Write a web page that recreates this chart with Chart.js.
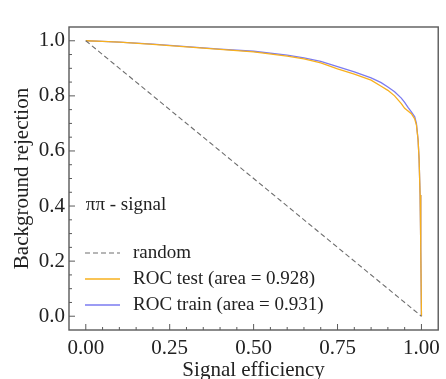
<!DOCTYPE html>
<html>
<head>
<meta charset="utf-8">
<script src="https://cdn.jsdelivr.net/npm/chart.js@4.4.1/dist/chart.umd.min.js"></script>
<style>
  html, body { margin: 0; padding: 0; background: #fff; }
  #wrap { width: 446px; height: 379px; }
</style>
</head>
<body>
<div id="wrap"><canvas id="chart" width="446" height="379"></canvas></div>
<script>
// ROC curves
const signalEff = [0, 0.05, 0.1, 0.2, 0.3, 0.4, 0.5, 0.6, 0.65, 0.7, 0.75, 0.8, 0.85, 0.88, 0.9, 0.92, 0.94, 0.95, 0.96, 0.97, 0.98, 0.985, 0.99, 0.993, 0.996, 0.998, 1.0];
const testRej  = [1.0, 0.998, 0.995, 0.987, 0.978, 0.969, 0.960, 0.944, 0.934, 0.920, 0.898, 0.879, 0.857, 0.835, 0.820, 0.800, 0.772, 0.755, 0.745, 0.735, 0.716, 0.695, 0.64, 0.57, 0.44, 0.25, 0.0];
const trainRej = [1.0, 0.998, 0.995, 0.988, 0.979, 0.970, 0.962, 0.948, 0.938, 0.925, 0.906, 0.887, 0.865, 0.848, 0.832, 0.815, 0.792, 0.776, 0.758, 0.742, 0.724, 0.700, 0.64, 0.57, 0.44, 0.25, 0.0];
const randomX = [0, 1];
const randomY = [1, 0];

const xTicks = [0, 0.25, 0.5, 0.75, 1.0];
const yTicks = [0, 0.2, 0.4, 0.6, 0.8, 1.0];
const minorStep = 0.05;

const labels = ['random', 'ROC test (area = 0.928)', 'ROC train (area = 0.931)'];
const annotationText = 'ππ - signal';

const serif = '"Liberation Serif", "DejaVu Serif", serif';
const frameColor = '#5a5a5a';

function pts(xs, ys) {
    return xs.map((x, i) => ({ x: x, y: ys[i] }));
}

// frame, inward ticks, legend and the annotation
const decorations = {
    id: 'decorations',
    afterDatasetsDraw(chart) {
        const ctx = chart.ctx;
        const area = chart.chartArea;
        const xs = chart.scales.x;
        const ys = chart.scales.y;
        ctx.save();

        // frame
        ctx.strokeStyle = frameColor;
        ctx.lineWidth = 1.4;
        ctx.strokeRect(area.left, area.top, area.right - area.left, area.bottom - area.top);

        // ticks pointing inward
        ctx.lineWidth = 1;
        for (let i = 0; i <= 20; i++) {
            const v = i * minorStep;
            const major = xTicks.some(t => Math.abs(t - v) < 1e-6);
            const px = xs.getPixelForValue(v);
            ctx.beginPath();
            ctx.moveTo(px, area.bottom);
            ctx.lineTo(px, area.bottom - (major ? 6 : 3));
            ctx.stroke();
        }
        for (let i = 0; i <= 20; i++) {
            const v = i * minorStep;
            const major = yTicks.some(t => Math.abs(t - v) < 1e-6);
            const py = ys.getPixelForValue(v);
            ctx.beginPath();
            ctx.moveTo(area.left, py);
            ctx.lineTo(area.left + (major ? 6 : 3), py);
            ctx.stroke();
        }

        // annotation
        ctx.fillStyle = '#222';
        ctx.font = '19px ' + serif;
        ctx.textBaseline = 'middle';
        ctx.textAlign = 'left';
        ctx.fillText(annotationText, xs.getPixelForValue(0), ys.getPixelForValue(0.405));

        // legend in the lower left corner
        const rowY = [area.bottom - 77, area.bottom - 51, area.bottom - 25];
        chart.data.datasets.forEach((ds, i) => {
            const y = rowY[i];
            ctx.strokeStyle = ds.borderColor;
            ctx.lineWidth = ds.borderWidth;
            ctx.setLineDash(ds.borderDash || []);
            ctx.beginPath();
            ctx.moveTo(area.left + 16, y);
            ctx.lineTo(area.left + 51, y);
            ctx.stroke();
            ctx.setLineDash([]);
            ctx.fillStyle = '#222';
            ctx.fillText(ds.label, area.left + 64, y);
        });
        ctx.restore();
    }
};

const ctx = document.getElementById('chart').getContext('2d');
const chart = new Chart(ctx, {
    type: 'line',
    data: {
        datasets: [{
            label: labels[0],
            data: pts(randomX, randomY),
            borderColor: '#6e6e6e',
            borderWidth: 1.1,
            borderDash: [5, 3]
        }, {
            label: labels[1],
            data: pts(signalEff, testRej),
            borderColor: '#f7b01e',
            borderWidth: 1.3
        }, {
            label: labels[2],
            data: pts(signalEff, trainRej),
            borderColor: '#7b7bf0',
            borderWidth: 1.3
        }]
    },
    options: {
        responsive: false,
        animation: false,
        elements: {
            point: { radius: 0 },
            line: { tension: 0 }
        },
        layout: {
            padding: { top: 27, right: 4, left: 0, bottom: 0 }
        },
        scales: {
            x: {
                type: 'linear',
                min: -0.05,
                max: 1.05,
                afterBuildTicks: s => { s.ticks = xTicks.map(v => ({ value: v })); },
                afterFit: s => { s.height = 49; },
                grid: { display: false, drawTicks: false },
                border: { display: false },
                ticks: {
                    color: '#222',
                    padding: 6,
                    maxRotation: 0,
                    font: { family: serif, size: 21 },
                    callback: v => v.toFixed(2)
                },
                title: {
                    display: true,
                    text: 'Signal efficiency',
                    color: '#222',
                    padding: { top: 0, bottom: -4 },
                    font: { family: serif, size: 21 }
                }
            },
            y: {
                type: 'linear',
                min: -0.05,
                max: 1.05,
                afterBuildTicks: s => { s.ticks = yTicks.map(v => ({ value: v })); },
                afterFit: s => { s.width = 69; },
                grid: { display: false, drawTicks: false },
                border: { display: false },
                ticks: {
                    color: '#222',
                    padding: 4,
                    font: { family: serif, size: 21 },
                    callback: v => v.toFixed(1)
                },
                title: {
                    display: true,
                    text: 'Background rejection',
                    color: '#222',
                    padding: { top: 10, bottom: 0 },
                    font: { family: serif, size: 21 }
                }
            }
        },
        plugins: {
            legend: { display: false },
            tooltip: { enabled: false }
        }
    },
    plugins: [decorations]
});
</script>
</body>
</html>
